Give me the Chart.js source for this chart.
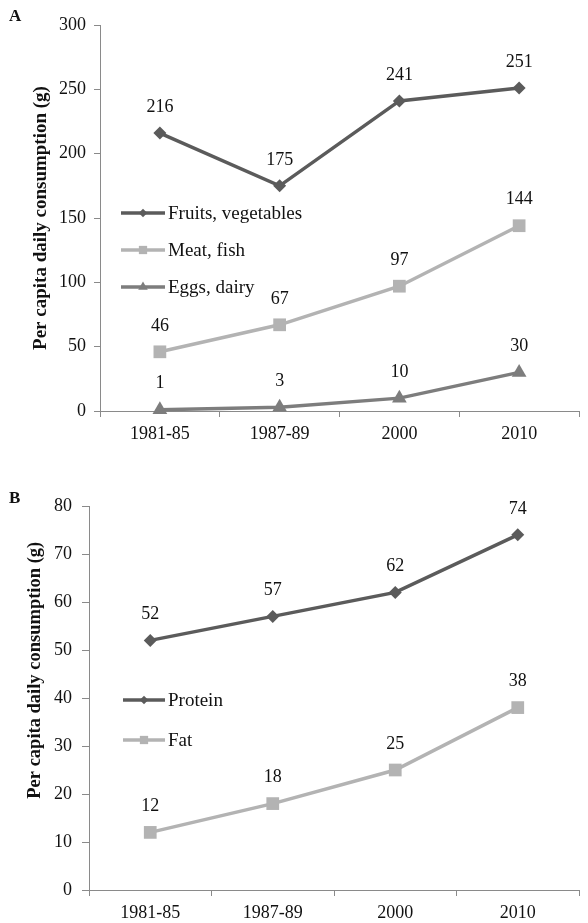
<!DOCTYPE html>
<html>
<head>
<meta charset="utf-8">
<title>Per capita daily consumption</title>
<script src="https://cdn.jsdelivr.net/npm/chart.js@4/dist/chart.umd.min.js"></script>
<style>
    html, body { margin: 0; padding: 0; background: #fff; }
    body { width: 588px; height: 923px; position: relative; overflow: hidden; }
    .panel { position: absolute; left: 0; width: 588px; }
    .tag { position: absolute; font: bold 17px "Liberation Serif", serif; color: #111; z-index: 2; }
</style>
</head>
<body>
<div class="tag" style="left:9px;top:6px;">A</div>
<div class="panel" style="top:0;height:460px;"><canvas id="chartA" width="588" height="460"></canvas></div>
<div class="tag" style="left:9px;top:488px;">B</div>
<div class="panel" style="top:460px;height:463px;"><canvas id="chartB" width="588" height="463"></canvas></div>

<script>
/* =======================================================
   DATA
   ======================================================= */
const periods = ["1981-85", "1987-89", "2000", "2010"];

// panel A: food groups (g)
const fruitsVeg = [216, 175, 241, 251];
const meatFish = [46, 67, 97, 144];
const eggsDairy = [1, 3, 10, 30];

// panel B: nutrients (g)
const protein = [52, 57, 62, 74];
const fat = [12, 18, 25, 38];

// y axis ticks
const foodTicks = [0, 50, 100, 150, 200, 250, 300];
const nutrientTicks = [0, 10, 20, 30, 40, 50, 60, 70, 80];

const yTitle = "Per capita daily consumption (g)";

/* =======================================================
   STYLE
   ======================================================= */
const DARK = "#5b5b5b";
const LIGHT = "#b3b3b3";
const MID = "#7d7d7d";
const AXIS = "#8a8a8a";
const SERIF = '"Liberation Serif", "Times New Roman", serif';

Chart.defaults.font.family = SERIF;
Chart.defaults.color = "#111";

// value labels above each point
const pointLabels = {
    id: "pointLabels",
    afterDatasetsDraw(chart) {
        const ctx = chart.ctx;
        ctx.save();
        ctx.font = "18px " + SERIF;
        ctx.fillStyle = "#111";
        ctx.textAlign = "center";
        ctx.textBaseline = "middle";
        chart.data.datasets.forEach((ds, i) => {
            chart.getDatasetMeta(i).data.forEach((pt, j) => {
                ctx.fillText(String(ds.data[j]), pt.x, pt.y - 26);
            });
        });
        ctx.restore();
    }
};

// legend drawn inside the plot area (y in canvas pixels)
const innerLegend = {
    id: "innerLegend",
    afterDraw(chart, args, opts) {
        const ctx = chart.ctx;
        ctx.save();
        chart.data.datasets.forEach((ds, i) => {
            const y = opts.y + i * opts.gap;
            const x1 = opts.x;
            const x2 = opts.x + opts.lineLen;
            ctx.strokeStyle = ds.borderColor;
            ctx.lineWidth = ds.borderWidth;
            ctx.beginPath();
            ctx.moveTo(x1, y);
            ctx.lineTo(x2, y);
            ctx.stroke();
            ctx.fillStyle = ds.pointBackgroundColor;
            Chart.helpers.drawPoint(ctx, {
                pointStyle: ds.pointStyle,
                radius: ds.pointRadius * 0.65,
                borderWidth: 0,
                rotation: 0
            }, (x1 + x2) / 2, y);
            ctx.fillStyle = "#111";
            ctx.font = opts.fontSize + "px " + SERIF;
            ctx.textAlign = "left";
            ctx.textBaseline = "middle";
            ctx.fillText(ds.label, x2 + 3, y + 1);
        });
        ctx.restore();
    }
};

function series(label, data, color, style, radius) {
    return {
        label: label,
        data: data,
        borderColor: color,
        backgroundColor: color,
        pointBackgroundColor: color,
        pointBorderColor: color,
        pointBorderWidth: 0,
        pointStyle: style,
        pointRadius: radius,
        pointHoverRadius: radius,
        borderWidth: 3.5,
        tension: 0,
        clip: false
    };
}

function buildOptions(cfg) {
    return {
        responsive: false,
        animation: false,
        events: [],
        layout: { padding: { top: cfg.padTop, right: cfg.padRight, left: 0, bottom: 0 } },
        plugins: {
            legend: { display: false },
            tooltip: { enabled: false },
            innerLegend: cfg.legend
        },
        scales: {
            x: {
                offset: true,
                afterFit: (s) => { s.height = cfg.xHeight; },
                grid: { offset: true, drawOnChartArea: false, tickLength: 6, color: AXIS },
                border: { color: AXIS, width: 1 },
                ticks: { font: { size: 18 }, padding: 6, color: "#111", maxRotation: 0 }
            },
            y: {
                min: cfg.ticks[0],
                max: cfg.ticks[cfg.ticks.length - 1],
                afterFit: (s) => { s.width = cfg.yWidth; },
                afterBuildTicks: (s) => { s.ticks = cfg.ticks.map(v => ({ value: v })); },
                grid: { drawOnChartArea: false, tickLength: cfg.tickLen, color: AXIS },
                border: { color: AXIS, width: 1 },
                ticks: { font: { size: 18 }, padding: cfg.tickPad, color: "#111" },
                title: {
                    display: true,
                    text: cfg.title,
                    font: { size: cfg.titleSize, weight: "bold" },
                    color: "#111",
                    padding: { top: cfg.titlePad, bottom: 0 }
                }
            }
        }
    };
}

/* =======================================================
   PANEL A
   ======================================================= */
new Chart(document.getElementById("chartA"), {
    type: "line",
    data: {
        labels: periods,
        datasets: [
            series("Fruits, vegetables", fruitsVeg, DARK, "rectRot", 6.5),
            series("Meat, fish", meatFish, LIGHT, "rect", 9),
            series("Eggs, dairy", eggsDairy, MID, "triangle", 8.5)
        ]
    },
    options: buildOptions({
        padTop: 25, padRight: 1, xHeight: 49, yWidth: 100,
        ticks: foodTicks, tickLen: 6, tickPad: 8,
        title: yTitle, titleSize: 19, titlePad: 30,
        legend: { x: 121, y: 213, gap: 37, lineLen: 44, fontSize: 19 }
    }),
    plugins: [pointLabels, innerLegend]
});

/* =======================================================
   PANEL B
   ======================================================= */
new Chart(document.getElementById("chartB"), {
    type: "line",
    data: {
        labels: periods,
        datasets: [
            series("Protein", protein, DARK, "rectRot", 6.5),
            series("Fat", fat, LIGHT, "rect", 9)
        ]
    },
    options: buildOptions({
        padTop: 46, padRight: 0, xHeight: 33, yWidth: 89,
        ticks: nutrientTicks, tickLen: 7, tickPad: 10,
        title: "            " + yTitle, titleSize: 18.5, titlePad: 24,
        legend: { x: 123, y: 240, gap: 40, lineLen: 42, fontSize: 19 }
    }),
    plugins: [pointLabels, innerLegend]
});
</script>
</body>
</html>
